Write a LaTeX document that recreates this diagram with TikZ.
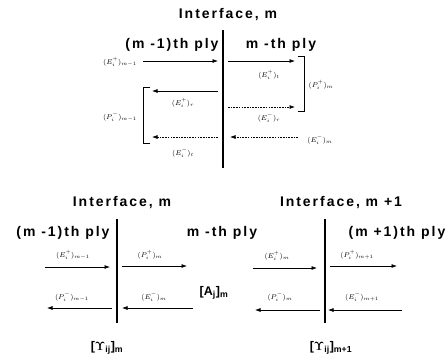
\documentclass[tikz,border=0pt]{standalone}
\usepackage[no-math]{fontspec}
\setsansfont{Liberation Sans}
\newfontfamily\titlefont[LetterSpace=14]{Liberation Sans}
\usetikzlibrary{arrows.meta}
\begin{document}
\begin{tikzpicture}[x=1pt,y=-1pt,
  title/.style={font=\titlefont\bfseries\fontsize{14}{16}\selectfont, inner sep=0pt},
  lab/.style={font=\fontsize{7.5}{8}\selectfont, inner sep=0pt},
  blab/.style={font=\sffamily\bfseries\fontsize{12.5}{14}\selectfont, inner sep=0pt},
  arr/.style={-{Latex[length=5.5pt,width=4pt]}, line width=0.7pt},
  darr/.style={arr, dash pattern=on 1.6pt off 1.1pt},
  iface/.style={line width=1.8pt},
  ifaceb/.style={line width=1.4pt},
  brk/.style={line width=0.7pt}]
\useasboundingbox (0,0) rectangle (448,357);
% ---------- top diagram ----------
\node[title] (t1) at (228,15) {Interface, m};
\coordinate (v1a) at (223,30);
\coordinate (v1b) at (223,168);
\draw[iface] (v1a) -- (v1b);
\node[title] (p1) at (172,45) {(m -1)th ply};
\node[title] (p2) at (281,45) {m -th ply};
\coordinate (a1s) at (143,61); \coordinate (a1e) at (218,61);
\coordinate (a2s) at (228,61); \coordinate (a2e) at (295,61);
\coordinate (a3s) at (218,91); \coordinate (a3e) at (152,91);
\coordinate (a4s) at (228,107); \coordinate (a4e) at (295,107);
\coordinate (a5s) at (218,137); \coordinate (a5e) at (152,137);
\coordinate (a6s) at (298,137); \coordinate (a6e) at (230,137);
\draw[arr] (a1s) -- (a1e);
\draw[arr] (a2s) -- (a2e);
\draw[arr] (a3s) -- (a3e);
\draw[darr] (a4s) -- (a4e);
\draw[darr] (a5s) -- (a5e);
\draw[darr] (a6s) -- (a6e);
\node[lab] (l1) at (120,62) {$(E_i^+)_{m-1}$};
\node[lab] (l2) at (269,75) {$(E_i^+)_t$};
\node[lab] (l3) at (183,103) {$(E_i^+)_r$};
\node[lab] (l4) at (269,118) {$(E_i^-)_r$};
\node[lab] (l5) at (183,153) {$(E_i^-)_t$};
\node[lab] (l6) at (320,140) {$(E_i^-)_m$};
\node[lab] (l7) at (321,85) {$(P_i^+)_m$};
\node[lab] (l8) at (120,117) {$(P_i^-)_{m-1}$};
\coordinate (rb1) at (298,56); \coordinate (rb2) at (298,111);
\draw[brk] (rb1) -- ++(6,0) |- (rb2);
\coordinate (lb1) at (150,87); \coordinate (lb2) at (150,143);
\draw[brk] (lb1) -- ++(-7,0) |- (lb2);
% ---------- bottom diagram ----------
\node[title] (t2) at (122,203) {Interface, m};
\node[title] (t3) at (341,203) {Interface, m +1};
\coordinate (v2a) at (117,219); \coordinate (v2b) at (117,323);
\coordinate (v3a) at (325,219); \coordinate (v3b) at (325,323);
\draw[ifaceb] (v2a) -- (v2b);
\draw[ifaceb] (v3a) -- (v3b);
\node[title] (q1) at (63,233) {(m -1)th ply};
\node[title] (q2) at (222,233) {m -th ply};
\node[title] (q3) at (397,233) {(m +1)th ply};
\coordinate (b1s) at (45,267); \coordinate (b1e) at (110,267);
\coordinate (b2s) at (122,266); \coordinate (b2e) at (187,266);
\coordinate (b3s) at (253,268); \coordinate (b3e) at (317,268);
\coordinate (b4s) at (330,266); \coordinate (b4e) at (397,266);
\coordinate (b5s) at (112,308); \coordinate (b5e) at (47,308);
\coordinate (b6s) at (193,308); \coordinate (b6e) at (122,308);
\coordinate (b7s) at (320,310); \coordinate (b7e) at (255,310);
\coordinate (b8s) at (402,310); \coordinate (b8e) at (328,310);
\foreach \i in {1,...,8} {\draw[arr] (b\i s) -- (b\i e);}
\node[lab] (m1) at (73,255) {$(E_i^+)_{m-1}$};
\node[lab] (m2) at (150,255) {$(P_i^+)_m$};
\node[lab] (m3) at (277,256) {$(E_i^+)_m$};
\node[lab] (m4) at (357,255) {$(P_i^+)_{m+1}$};
\node[lab] (m5) at (72,297) {$(P_i^-)_{m-1}$};
\node[lab] (m6) at (154,297) {$(E_i^-)_m$};
\node[lab] (m7) at (280,297) {$(P_i^-)_m$};
\node[lab] (m8) at (362,297) {$(E_i^-)_{m+1}$};
\node[blab] (am) at (214,293) {[A\textsubscript{j}]\textsubscript{m}};
\node[blab] (y1) at (107,348) {[$\mathbf{\Upsilon}$\textsubscript{ij}]\textsubscript{m}};
\node[blab] (y2) at (331,348) {[$\mathbf{\Upsilon}$\textsubscript{ij}]\textsubscript{m+1}};
\end{tikzpicture}
\end{document}
